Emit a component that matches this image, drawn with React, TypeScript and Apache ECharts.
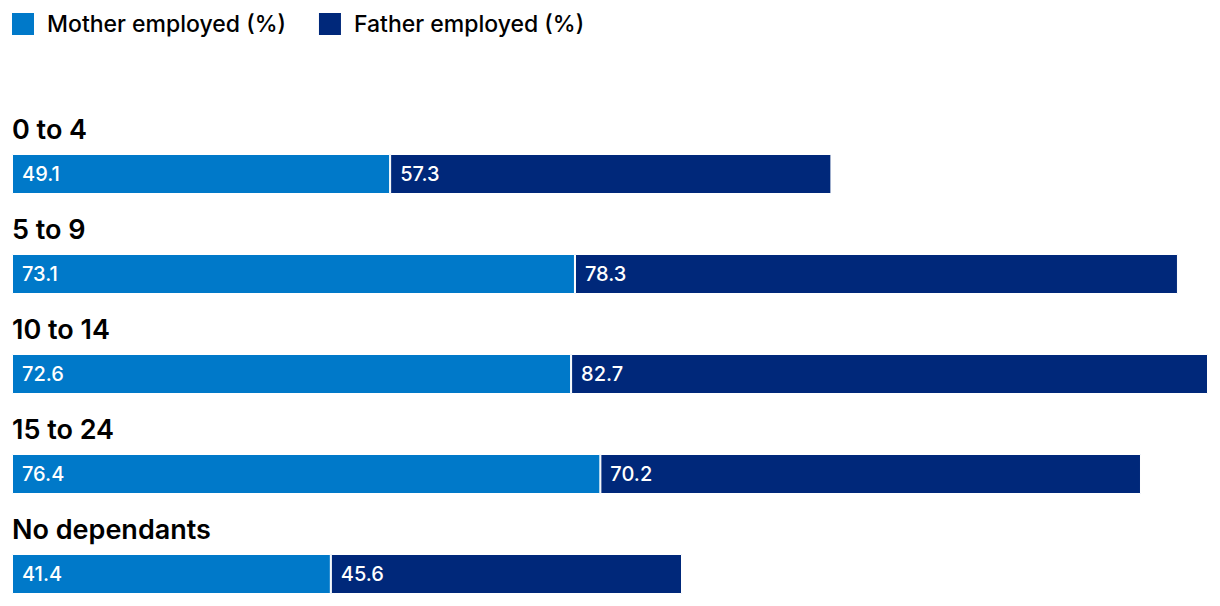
import React, { useEffect, useRef } from "react";
import * as echarts from "echarts";

const categories = ["0 to 4", "5 to 9", "10 to 14", "15 to 24", "No dependants"];
const motherEmployed = [49.1, 73.1, 72.6, 76.4, 41.4];
const fatherEmployed = [57.3, 78.3, 82.7, 70.2, 45.6];
const seriesNames = ["Mother employed (%)", "Father employed (%)"];

const MOTHER_COLOR = "#0079C9";
const FATHER_COLOR = "#00287A";
const FONT = "Inter, 'Noto Sans', sans-serif";

export default function App() {
  const ref = useRef<HTMLDivElement>(null);

  useEffect(() => {
    if (!ref.current) return;
    const chart = echarts.init(ref.current, undefined, { renderer: "svg" });
    const maxTotal = Math.max(...motherEmployed.map((v, i) => v + fatherEmployed[i]));

    const valueLabel = {
      show: true,
      position: "insideLeft",
      distance: 10,
      color: "#fff",
      fontSize: 20,
      fontWeight: 500,
      fontFamily: FONT,
    };

    chart.setOption({
      animation: false,
      textStyle: { fontFamily: FONT },
      legend: {
        left: 10,
        top: 11,
        padding: 0,
        itemWidth: 24,
        itemHeight: 24,
        itemGap: 31,
        icon: "rect",
        textStyle: {
          fontSize: 23,
          fontWeight: 500,
          color: "#000",
          fontFamily: FONT,
          padding: [0, 0, 0, 7],
        },
        data: seriesNames,
      },
      grid: { left: 12, right: 12, top: 124, height: 500, containLabel: false },
      xAxis: {
        type: "value",
        min: 0,
        max: maxTotal,
        show: false,
      },
      yAxis: {
        type: "category",
        inverse: true,
        data: categories,
        z: 10,
        axisLine: { show: false },
        axisTick: { show: false },
        splitLine: { show: false },
        axisLabel: {
          interval: 0,
          align: "left",
          margin: 0,
          verticalAlign: "middle",
          formatter: (v: string) => `{name|${v}}\n{gap|}`,
          rich: {
            name: {
              fontSize: 27,
              fontWeight: 600,
              color: "#000",
              fontFamily: FONT,
              lineHeight: 30,
              align: "left",
            },
            gap: { lineHeight: 90, fontSize: 10 },
          },
        },
      },
      series: [
        {
          name: seriesNames[0],
          type: "bar",
          stack: "total",
          barWidth: 40,
          data: motherEmployed,
          itemStyle: { color: MOTHER_COLOR, borderColor: "#fff", borderWidth: 1 },
          label: valueLabel,
        },
        {
          name: seriesNames[1],
          type: "bar",
          stack: "total",
          barWidth: 40,
          data: fatherEmployed,
          itemStyle: { color: FATHER_COLOR, borderColor: "#fff", borderWidth: 1 },
          label: valueLabel,
        },
      ],
    });

    return () => chart.dispose();
  }, []);

  return (
    <div
      style={{
        position: "fixed",
        left: 0,
        top: 0,
        width: 1220,
        height: 606,
        overflow: "hidden",
        background: "#fff",
      }}
    >
      <div ref={ref} style={{ width: 1220, height: 630 }} />
    </div>
  );
}
